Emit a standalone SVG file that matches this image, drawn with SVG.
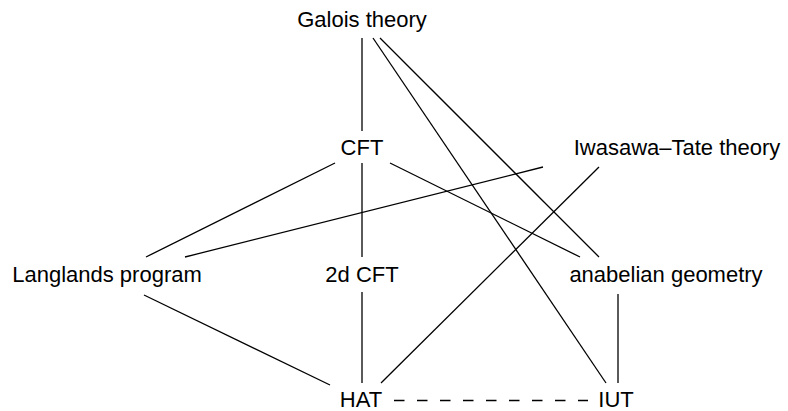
<svg xmlns="http://www.w3.org/2000/svg" width="788" height="411" viewBox="0 0 788 411">
<style>
text{font-family:"Liberation Sans",Arial,sans-serif;font-size:22px;fill:#000;text-anchor:middle}
.e line{stroke:#000;stroke-width:1.3;fill:none}
.d{stroke-dasharray:10.5 12.5}
</style>
<rect width="788" height="411" fill="#fff"/>
<g id="edges" class="e">
<line x1="362" y1="38" x2="362" y2="131"/>
<line x1="373" y1="38" x2="606" y2="383"/>
<line x1="380" y1="38" x2="599" y2="257"/>
<line x1="362" y1="163" x2="362" y2="257"/>
<line x1="335" y1="163" x2="146" y2="257"/>
<line x1="390" y1="163" x2="580" y2="257"/>
<line x1="543" y1="167" x2="185" y2="257"/>
<line x1="599" y1="167" x2="381" y2="383"/>
<line x1="144" y1="295" x2="330" y2="385"/>
<line x1="362" y1="292" x2="362" y2="383"/>
<line x1="618" y1="294" x2="618" y2="383"/>
<line class="d" x1="394" y1="400.5" x2="588" y2="400.5"/>
</g>
<g id="galois"><text x="362" y="27">Galois theory</text></g>
<g id="cft"><text x="362" y="155">CFT</text></g>
<g id="iwasawa"><text x="677" y="155">Iwasawa–Tate theory</text></g>
<g id="langlands"><text x="107" y="282">Langlands program</text></g>
<g id="cft2d"><text x="362" y="282">2d CFT</text></g>
<g id="anabelian"><text x="666" y="282">anabelian geometry</text></g>
<g id="hat"><text x="361" y="407">HAT</text></g>
<g id="iut"><text x="616" y="407">IUT</text></g>
</svg>
